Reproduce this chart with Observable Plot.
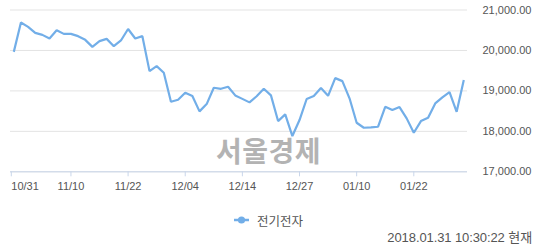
<!DOCTYPE html>
<html>
<head>
<meta charset="utf-8">
<script src="https://cdn.jsdelivr.net/npm/d3@7"></script>
<script src="https://cdn.jsdelivr.net/npm/@observablehq/plot@0.6"></script>
<style>
  html, body { margin: 0; padding: 0; background: #fff; }
  #wrap { position: relative; width: 539px; height: 248px; overflow: hidden; font-family: "Liberation Sans", Arial, sans-serif; }
  #chart svg { display: block; }
  #wm { position: absolute; left: 216px; top: 136px; font: bold 28px/28px "Noto Sans CJK KR", sans-serif; color: #b3b3b3; letter-spacing: 0.5px; pointer-events: none; }
  #legend { position: absolute; left: 234px; top: 211px; height: 18px; display: flex; align-items: center; font: 12.5px "Noto Sans CJK KR", sans-serif; color: #555; }
  #legend svg { margin-right: 8px; }
  #footer { position: absolute; right: 7px; top: 228.5px; font: 13px/16px "Liberation Sans", Arial, sans-serif; color: #555; letter-spacing: -0.1px; }
  #footer span { font-family: "Noto Sans CJK KR", sans-serif; }
</style>
</head>
<body>
<div id="wrap">
  <div id="chart"></div>
  <div id="wm"></div>
  <div id="legend"></div>
  <div id="footer"></div>
</div>
<script>
const seriesName = "전기전자";
const watermark = "서울경제";
const timestamp = "2018.01.31 10:30:22";
const timestampSuffix = "현재";

const dates = [
  "10/31",
  "11/01","11/02","11/03","11/06","11/07","11/08","11/09","11/10","11/13","11/14","11/15",
  "11/16","11/17","11/20","11/21","11/22","11/23","11/24","11/27","11/28","11/29","11/30",
  "12/01","12/04","12/05","12/06","12/07","12/08","12/11","12/12","12/13","12/14","12/15",
  "12/18","12/19","12/20","12/21","12/22","12/26","12/27","12/28",
  "01/02","01/03","01/04","01/05","01/08","01/09","01/10","01/11","01/12","01/15","01/16",
  "01/17","01/18","01/19","01/22","01/23","01/24","01/25","01/26","01/29","01/30","01/31"
];

const values = [
  19965, 20690, 20583, 20435, 20385, 20296, 20500, 20410, 20410, 20353,
  20262, 20089, 20230, 20286, 20106, 20247, 20530, 20296, 20353, 19489,
  19612, 19447, 18731, 18780, 18953, 18872, 18494, 18674, 19077, 19052,
  19101, 18889, 18803, 18716, 18867, 19052, 18889, 18254, 18420, 17884,
  18279, 18800, 18872, 19069, 18879, 19316, 19242, 18817, 18212, 18089,
  18097, 18114, 18607, 18526, 18600, 18321, 17965, 18254, 18336, 18691,
  18840, 18970, 18484, 19267
];

const yTicks = [17000, 18000, 19000, 20000, 21000];
const xTickLabels = ["10/31","11/10","11/22","12/04","12/14","12/27","01/10","01/22"];

const data = dates.map((d, i) => ({i, date: d, value: values[i]}));
const xTickIdx = xTickLabels.map(l => dates.indexOf(l));

const lineColor = "#72aee8";
const axisColor = "#c9d6ea";
const textColor = "#555";

const plot = Plot.plot({
  width: 539,
  height: 200,
  marginTop: 9.5,
  marginBottom: 28.7,
  marginLeft: 10,
  marginRight: 72,
  style: {fontFamily: "'Liberation Sans', Arial, sans-serif", fontSize: "11px", color: textColor, background: "transparent"},
  x: {type: "linear", domain: [0, dates.length - 1], insetLeft: 3.3, insetRight: 3.7, label: null},
  y: {domain: [17000, 21000], label: null},
  marks: [
    Plot.gridY(yTicks, {stroke: "#e3e3e3", strokeOpacity: 1}),
    Plot.ruleY([yTicks[0]], {stroke: axisColor, strokeWidth: 1}),
    Plot.axisY(yTicks, {anchor: "right", label: null, tickSize: 0, tickPadding: 15, tickFormat: d3.format(",.2f"), fill: textColor, fontSize: 11, textAnchor: "start"}),
    Plot.axisX(xTickIdx.slice(0, 1), {anchor: "bottom", label: null, tickSize: 5, stroke: axisColor, tickPadding: 5, tickFormat: i => dates[i], fill: textColor, fontSize: 11, textAnchor: "start", dx: -2.5}),
    Plot.axisX(xTickIdx.slice(1), {anchor: "bottom", label: null, tickSize: 5, stroke: axisColor, tickPadding: 5, tickFormat: i => dates[i], fill: textColor, fontSize: 11}),
    Plot.line(data, {x: "i", y: "value", stroke: lineColor, strokeWidth: 2.2, strokeLinejoin: "miter", strokeLinecap: "butt"})
  ]
});
document.getElementById("chart").appendChild(plot);

document.getElementById("wm").textContent = watermark;

const legend = document.getElementById("legend");
legend.innerHTML = `<svg width="15" height="10"><line x1="0" x2="15" y1="5" y2="5" stroke="${lineColor}" stroke-width="2.5"/><circle cx="7.5" cy="5" r="3.6" fill="${lineColor}"/></svg>`;
const lt = document.createElement("span");
lt.textContent = seriesName;
legend.appendChild(lt);

const footer = document.getElementById("footer");
footer.textContent = timestamp + " ";
const fs = document.createElement("span");
fs.textContent = timestampSuffix;
footer.appendChild(fs);
</script>
</body>
</html>
